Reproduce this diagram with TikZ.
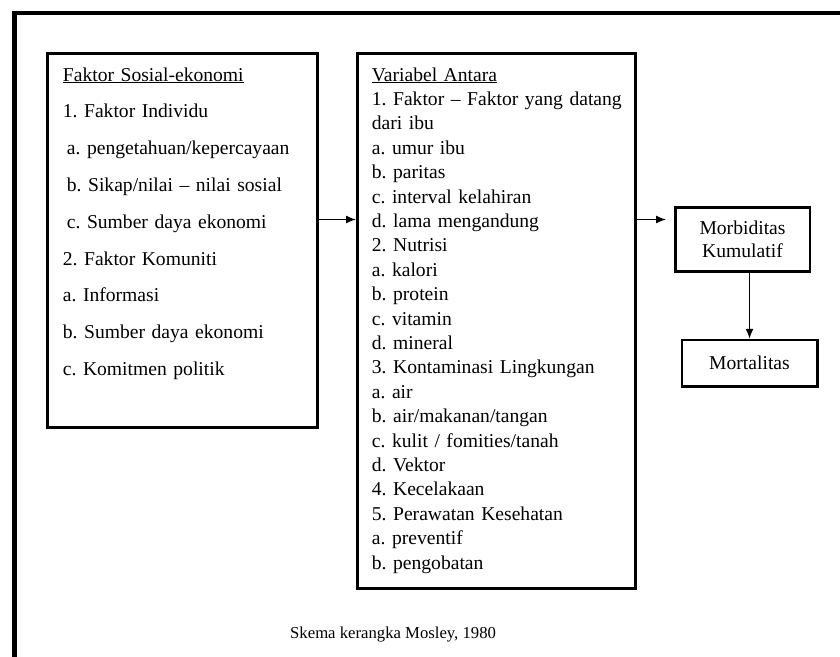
\documentclass[tikz,border=0pt]{standalone}
\usepackage{fontspec}
\setmainfont{Liberation Serif}
\usetikzlibrary{arrows.meta}
\usetikzlibrary{calc}
\usetikzlibrary{positioning}

\begin{document}
\frenchspacing
\begin{tikzpicture}[x=1pt, y=-1pt]

                \def\fs{19.6}

                % Styles for the boxes, the lists inside them and the arrows
                \tikzset{
                    listbox/.style={draw, line width=3pt, anchor=north west,
                        inner sep=0pt},
                    endbox/.style={draw, line width=2.5pt, inner sep=0pt,
                        align=center, font=\fontsize{\fs}{23}\selectfont},
                    listtext/.style={anchor=base west, inner sep=0pt,
                        align=left},
                    flow/.style={-{Latex[length=10pt, width=8pt]},
                        line width=1.3pt}
                }

                \useasboundingbox (0,0) rectangle (840,656);
                \clip (0,0) rectangle (840,656);

                % Outer frame, it runs on past the right and lower edge
                \draw[line width=4.5pt] (14.5,13) rectangle (880,720);

                \begin{scope}
                    \node[listbox, minimum width=270pt, minimum height=374pt]
                    (sosial) at (46,51.5) {};
                    \node[listbox, minimum width=278pt, minimum height=535pt]
                    (antara) at (356,51.5) {};
                    \node[endbox, minimum width=134.5pt, minimum height=64pt]
                    (morbiditas) at (742.5,239.5) {Morbiditas\\Kumulatif};
                    \node[endbox, minimum width=135.5pt, minimum height=46.5pt,
                        below=66pt of morbiditas, xshift=7pt]
                    (mortalitas) {Mortalitas};
                \end{scope}

                \node[listtext, text width=250pt,
                    font=\fontsize{\fs}{36.8}\selectfont\frenchspacing]
                    (sosialtxt) at ([shift={(16.7,29.5)}]sosial.north west)
                {\underline{Faktor Sosial-ekonomi}\\
                 1. Faktor Individu\\
                 \hspace*{4pt}a. pengetahuan/kepercayaan\\
                 \hspace*{4pt}b. Sikap/nilai -- nilai sosial\\
                 \hspace*{4pt}c. Sumber daya ekonomi\\
                 2. Faktor Komuniti\\
                 a. Informasi\\
                 b. Sumber daya ekonomi\\
                 c. Komitmen politik};

                \node[listtext, text width=260pt,
                    font=\fontsize{\fs}{24.4}\selectfont\frenchspacing]
                    (antaratxt) at ([shift={(15.7,29.5)}]antara.north west)
                {\underline{Variabel Antara}\\
                 1. Faktor -- Faktor yang datang\\
                 dari ibu\\
                 a. umur ibu\\
                 b. paritas\\
                 c. interval kelahiran\\
                 d. lama mengandung\\
                 2. Nutrisi\\
                 a. kalori\\
                 b. protein\\
                 c. vitamin\\
                 d. mineral\\
                 3. Kontaminasi Lingkungan\\
                 a. air\\
                 b. air/makanan/tangan\\
                 c. kulit / fomities/tanah\\
                 d. Vektor\\
                 4. Kecelakaan\\
                 5. Perawatan Kesehatan\\
                 a. preventif\\
                 b. pengobatan};

                \node[anchor=base west, inner sep=0pt,
                    font=\fontsize{16.7}{20}\selectfont] (mosley)
                    at (290,638) {Skema kerangka Mosley, 1980};

                % Arrows between the boxes
                \coordinate (lvl) at (0,219.5);
                \begin{scope}
                    \draw[flow] (sosial.east |- lvl) -- (antara.west |- lvl);
                    \draw[flow] (antara.east |- lvl)
                        -- ([xshift=-8pt]morbiditas.west |- lvl);
                    \draw[flow] (morbiditas.south -| mortalitas.north)
                        -- (mortalitas.north);
                \end{scope}

\end{tikzpicture}
\end{document}
